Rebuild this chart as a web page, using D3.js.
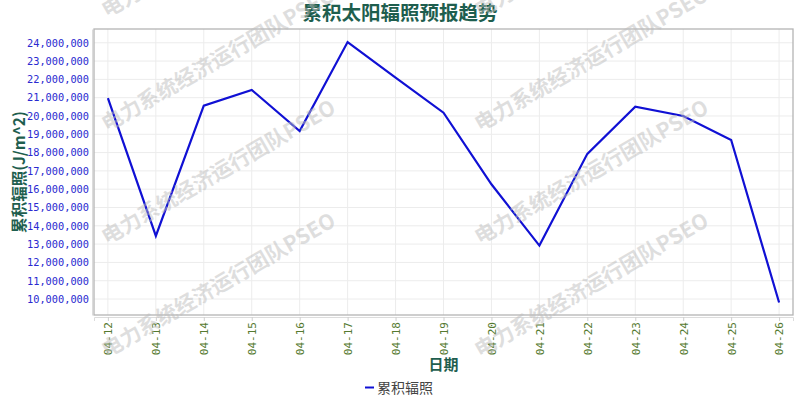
<!DOCTYPE html>
<html>
<head>
<meta charset="utf-8">
<script src="https://cdn.jsdelivr.net/npm/d3@7/dist/d3.min.js"></script>
<style>
  html, body { margin: 0; padding: 0; background: #fff; }
  svg { display: block; }
</style>
</head>
<body>
<svg id="chart" width="800" height="400"></svg>
<script>
// ---- data ----
const categories = ["04-12","04-13","04-14","04-15","04-16","04-17","04-18","04-19","04-20","04-21","04-22","04-23","04-24","04-25","04-26"];
const values = [20970000, 13450000, 20560000, 21420000, 19180000, 24040000, 22100000, 20180000, 16270000, 12920000, 17930000, 20510000, 20000000, 18690000, 9810000];
const yTicks = [10000000, 11000000, 12000000, 13000000, 14000000, 15000000, 16000000, 17000000, 18000000, 19000000, 20000000, 21000000, 22000000, 23000000, 24000000];
const titleText = "累积太阳辐照预报趋势";
const xLabel = "日期";
const yLabel = "累积辐照(J/m^2)";
const seriesName = "累积辐照";
const watermark = "电力系统经济运行团队PSEO";

// ---- layout ----
const svg = d3.select("#chart");
const box = { left: 94, right: 793, top: 29, bottom: 315 };
const cjk = "'Noto Sans CJK SC', 'Noto Sans', sans-serif";
const mono = "'DejaVu Sans Mono', 'Liberation Mono', monospace";

const x = d3.scalePoint().domain(categories).range([box.left, box.right]).padding(0.29);
const vmin = d3.min(values), vmax = d3.max(values), span = vmax - vmin;
const y = d3.scaleLinear().domain([vmin - span * 0.048, vmax + span * 0.05]).range([box.bottom, box.top]);

// watermark (behind)
const wmStarts = [];
[107, 480].forEach(sx => [18, 132, 245, 358].forEach(sy => wmStarts.push([sx, sy])));

// grid
const grid = svg.append("g");
grid.selectAll("line.h").data(yTicks).join("line")
  .attr("x1", box.left).attr("x2", box.right)
  .attr("y1", d => y(d)).attr("y2", d => y(d))
  .attr("stroke", "#ececec").attr("stroke-width", 1);
grid.selectAll("line.v").data(categories).join("line")
  .attr("x1", d => x(d)).attr("x2", d => x(d))
  .attr("y1", box.top).attr("y2", box.bottom)
  .attr("stroke", "#ececec").attr("stroke-width", 1);

// frame
svg.append("rect")
  .attr("x", box.left).attr("y", box.top)
  .attr("width", box.right - box.left).attr("height", box.bottom - box.top)
  .attr("fill", "none").attr("stroke", "#b4b4b4").attr("stroke-width", 1.3);

// y axis
const yAxis = d3.axisLeft(y).tickValues(yTicks).tickSize(0).tickPadding(0)
  .tickFormat(d3.format(","));
const gy = svg.append("g").attr("transform", `translate(${box.left - 2},0)`).call(yAxis);
gy.select(".domain").attr("stroke", "#dcdcdc");
gy.selectAll("text").attr("x", -3).attr("fill", "#2a2ad0")
  .style("font-family", mono).style("font-size", "10.3px");

// x axis
const xAxis = d3.axisBottom(x).tickSize(4).tickPadding(0);
const gx = svg.append("g").attr("transform", `translate(0,${box.bottom + 2})`).call(xAxis);
gx.select(".domain").attr("stroke", "#dcdcdc");
gx.selectAll(".tick line").attr("stroke", "#cfcfcf");
gx.selectAll("text")
  .attr("fill", "#557a30")
  .style("font-family", mono).style("font-size", "11px")
  .attr("text-anchor", "end")
  .attr("dy", "0.35em")
  .attr("transform", "translate(0,5) rotate(-90)")
  .attr("x", 0).attr("y", 0);

// line
const line = d3.line().x((d, i) => x(categories[i])).y(d => y(d));
svg.append("path").datum(values)
  .attr("d", line).attr("fill", "none")
  .attr("stroke", "#1010d4").attr("stroke-width", 2.2).attr("stroke-linejoin", "miter");

// title
svg.append("text").attr("x", 400).attr("y", 20).attr("text-anchor", "middle")
  .attr("fill", "#1e5e4e").style("font-family", cjk).style("font-weight", "bold").style("font-size", "19.5px")
  .text(titleText);

// axis titles
svg.append("text").attr("x", (box.left + box.right) / 2).attr("y", 370).attr("text-anchor", "middle")
  .attr("fill", "#1e5e4e").style("font-family", cjk).style("font-weight", "bold").style("font-size", "15px")
  .text(xLabel);
svg.append("text").attr("transform", `translate(25,${(box.top + box.bottom) / 2}) rotate(-90)`)
  .attr("text-anchor", "middle")
  .attr("fill", "#1e5e4e").style("font-family", cjk).style("font-weight", "bold").style("font-size", "15.5px")
  .text(yLabel);

// legend
const lg = svg.append("g");
lg.append("line").attr("x1", 365).attr("x2", 374).attr("y1", 387.5).attr("y2", 387.5)
  .attr("stroke", "#1010d4").attr("stroke-width", 2);
lg.append("text").attr("x", 377).attr("y", 393)
  .attr("fill", "#444").style("font-family", cjk).style("font-size", "14px")
  .text(seriesName);

// watermark
svg.append("g").selectAll("text").data(wmStarts).join("text")
  .attr("transform", d => `translate(${d[0]},${d[1]}) rotate(-30)`)
  .attr("fill", "#bdbdbd").attr("fill-opacity", 0.5)
  .style("font-family", cjk).style("font-size", "21px").style("font-weight", "bold")
  .text(watermark);
</script>
</body>
</html>
